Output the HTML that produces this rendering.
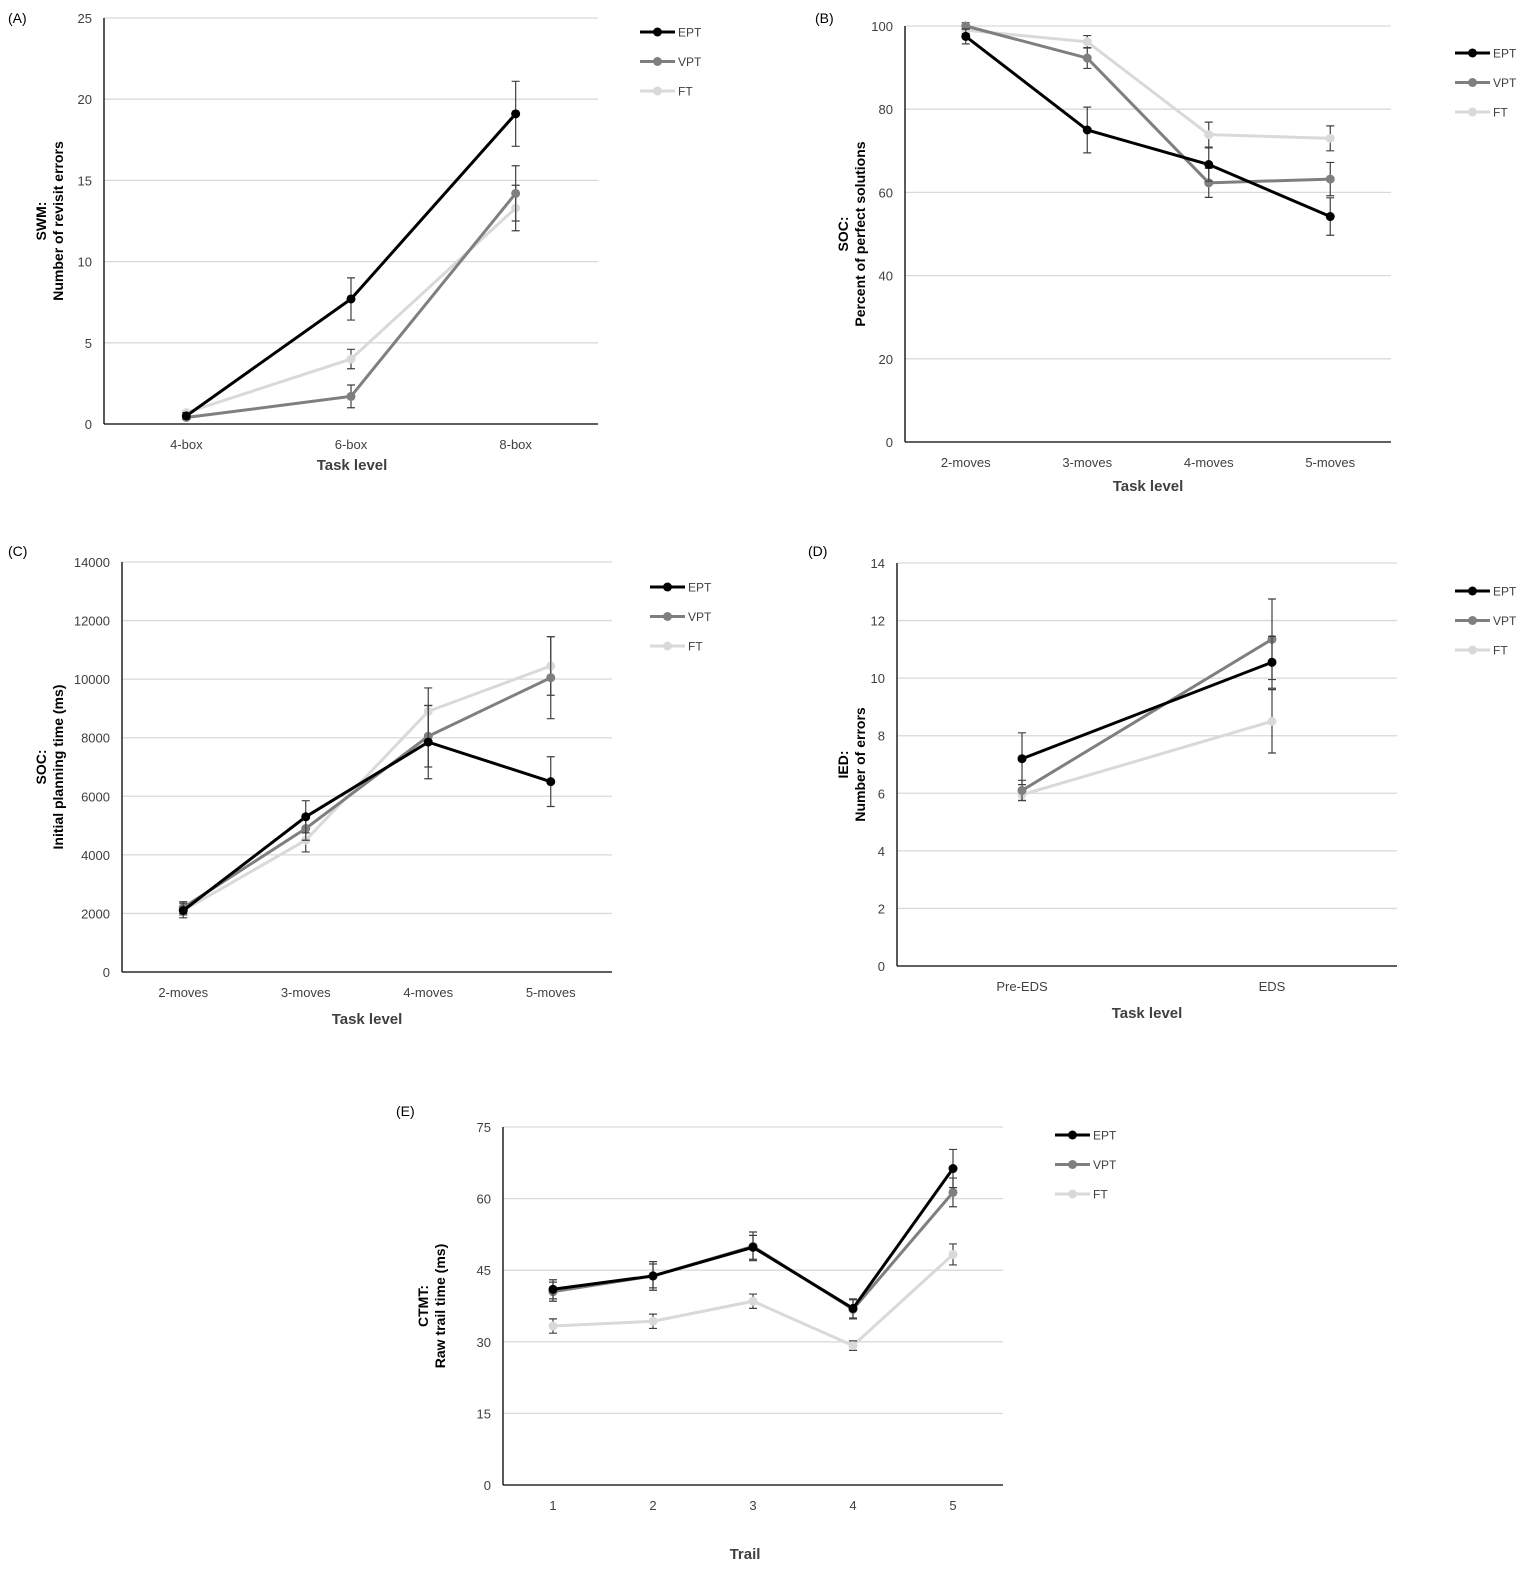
<!DOCTYPE html>
<html><head><meta charset="utf-8">
<style>
html,body{margin:0;padding:0;background:#fff;}
svg{display:block;font-family:"Liberation Sans",sans-serif;}
</style></head>
<body>
<svg id="fig" width="1535" height="1574" viewBox="0 0 1535 1574" xmlns="http://www.w3.org/2000/svg"></svg>
<script>
const seriesNames = ["EPT","VPT","FT"];
const seriesColors = ["#000000","#7f7f7f","#d9d9d9"];

const catsA = ["4-box","6-box","8-box"];
const eptA = [0.5, 7.7, 19.1];
const vptA = [0.4, 1.7, 14.2];
const ftA = [0.7, 4.0, 13.3];
const errEptA = [0.2, 1.3, 2.0];
const errVptA = [0.1, 0.7, 1.7];
const errFtA = [0.1, 0.6, 1.4];
const ticksA = [0,5,10,15,20,25];

const catsB = ["2-moves","3-moves","4-moves","5-moves"];
const eptB = [97.5, 75, 66.7, 54.2];
const vptB = [100, 92.3, 62.3, 63.2];
const ftB = [99, 96.2, 73.9, 73.0];
const errEptB = [1.8, 5.5, 4.0, 4.5];
const errVptB = [0.8, 2.5, 3.5, 4.0];
const errFtB = [0.8, 1.5, 3.0, 3.0];
const ticksB = [0,20,40,60,80,100];

const catsC = ["2-moves","3-moves","4-moves","5-moves"];
const eptC = [2100, 5300, 7850, 6500];
const vptC = [2200, 4900, 8050, 10050];
const ftC = [2100, 4500, 8900, 10450];
const errEptC = [250, 550, 1250, 850];
const errVptC = [200, 400, 1050, 1400];
const errFtC = [150, 400, 800, 1000];
const ticksC = [0,2000,4000,6000,8000,10000,12000,14000];

const catsD = ["Pre-EDS","EDS"];
const eptD = [7.2, 10.55];
const vptD = [6.1, 11.35];
const ftD = [5.95, 8.5];
const errEptD = [0.9, 0.9];
const errVptD = [0.35, 1.4];
const errFtD = [0.2, 1.1];
const ticksD = [0,2,4,6,8,10,12,14];

const catsE = ["1","2","3","4","5"];
const eptE = [41, 43.8, 49.8, 37, 66.3];
const vptE = [40.5, 43.8, 50, 36.8, 61.3];
const ftE = [33.3, 34.3, 38.5, 29.2, 48.3];
const errEptE = [2, 2.5, 2.5, 2, 4];
const errVptE = [2, 3, 3, 2, 3];
const errFtE = [1.5, 1.5, 1.5, 1, 2.2];
const ticksE = [0,15,30,45,60,75];

const NS = "http://www.w3.org/2000/svg";
const fig = document.getElementById('fig');
function mk(tag, attrs, parent, text){
  const e = document.createElementNS(NS, tag);
  for (const k in attrs) e.setAttribute(k, attrs[k]);
  if (text !== undefined) e.textContent = text;
  (parent||fig).appendChild(e);
  return e;
}

function chart(id, cfg){
  const g = mk('g', {});
  
  
  const {x0,x1,y0,y1,ticks,cats,vals,errs} = cfg;
  const ymax = ticks[ticks.length-1];
  const Y = v => y0 - (v/ymax)*(y0-y1);
  const step = (x1-x0)/cats.length;
  const X = i => x0 + step*(i+0.5);
  ticks.forEach(t=>{
    if (t>0){
      const gl = mk('line',{x1:x0,x2:x1,y1:Y(t),y2:Y(t),stroke:'#d9d9d9','stroke-width':1.3},g);
      
      
    }
    const tl = mk('text',{x:x0-12,y:Y(t)+5,'text-anchor':'end','font-size':13,fill:'#404040'},g,String(t));
    
    
  });
  const ax = mk('line',{x1:x0,x2:x0,y1:y1,y2:y0,stroke:'#000','stroke-width':1.3},g);
  
  
  const bx = mk('line',{x1:x0,x2:x1,y1:y0,y2:y0,stroke:'#000','stroke-width':1.3},g);
  
  
  cats.forEach((c,i)=>{
    const t = mk('text',{x:X(i),y:y0+25,'text-anchor':'middle','font-size':13,fill:'#404040'},g,c);
    
    
  });
  const xt = mk('text',{x:cfg.xtx,y:cfg.xty,'text-anchor':'middle','font-size':15,'font-weight':'bold',fill:'#404040'},g,cfg.xtitle);
  
  
  const yt = mk('text',{transform:`translate(${cfg.ytx},${(y0+y1)/2}) rotate(-90)`,'text-anchor':'middle','font-size':14,'font-weight':'bold',fill:'#000'},g);
  
  
  mk('tspan',{x:0,dy:-2},yt,cfg.ytitle[0]);
  mk('tspan',{x:0,dy:17},yt,cfg.ytitle[1]);
  const pl = mk('text',{x:cfg.lx,y:cfg.ly,'font-size':14,fill:'#000'},g,cfg.label);
  
  
  // series: draw FT first, then VPT, EPT on top
  [2,1,0].forEach(s=>{
    const sg = mk('g',{},g);
    
    
    const pts = vals[s].map((v,i)=>X(i)+','+Y(v)).join(' ');
    const ln = mk('polyline',{points:pts,fill:'none',stroke:seriesColors[s],'stroke-width':3},sg);
    
    
    vals[s].forEach((v,i)=>{
      const e = errs[s][i];
      const eb = mk('path',{d:`M${X(i)},${Y(v+e)}V${Y(v-e)}M${X(i)-4},${Y(v+e)}h8M${X(i)-4},${Y(v-e)}h8`,stroke:'#404040','stroke-width':1.2,fill:'none'},sg);
      
      
      const c = mk('circle',{cx:X(i),cy:Y(v),r:4.5,fill:seriesColors[s]},sg);
      
      
    });
  });
  seriesNames.forEach((n,s)=>{
    const lg = mk('g',{},g);
    
    
    const yy = cfg.legy + s*29.5;
    mk('line',{x1:cfg.legx,x2:cfg.legx+35,y1:yy,y2:yy,stroke:seriesColors[s],'stroke-width':3},lg);
    mk('circle',{cx:cfg.legx+17.5,cy:yy,r:4.5,fill:seriesColors[s]},lg);
    mk('text',{x:cfg.legx+38,y:yy+4.5,'font-size':12,fill:'#404040'},lg,n);
  });
}

chart('chart-a-swm',{x0:104,x1:598,y0:424,y1:18,ticks:ticksA,cats:catsA,
  vals:[eptA,vptA,ftA],errs:[errEptA,errVptA,errFtA],xtitle:'Task level',xtx:352,xty:470,
  ytitle:['SWM:','Number of revisit errors'],ytx:48,label:'(A)',lx:8,ly:23,legx:640,legy:32});
chart('chart-b-soc-solutions',{x0:905,x1:1391,y0:442,y1:26,ticks:ticksB,cats:catsB,
  vals:[eptB,vptB,ftB],errs:[errEptB,errVptB,errFtB],xtitle:'Task level',xtx:1148,xty:491,
  ytitle:['SOC:','Percent of perfect solutions'],ytx:850,label:'(B)',lx:815,ly:23,legx:1455,legy:53});
chart('chart-c-soc-planning',{x0:122,x1:612,y0:972,y1:562,ticks:ticksC,cats:catsC,
  vals:[eptC,vptC,ftC],errs:[errEptC,errVptC,errFtC],xtitle:'Task level',xtx:367,xty:1024,
  ytitle:['SOC:','Initial planning time (ms)'],ytx:48,label:'(C)',lx:8,ly:556,legx:650,legy:587});
chart('chart-d-ied',{x0:897,x1:1397,y0:966,y1:563,ticks:ticksD,cats:catsD,
  vals:[eptD,vptD,ftD],errs:[errEptD,errVptD,errFtD],xtitle:'Task level',xtx:1147,xty:1018,
  ytitle:['IED:','Number of errors'],ytx:850,label:'(D)',lx:808,ly:556,legx:1455,legy:591});
chart('chart-e-ctmt',{x0:503,x1:1003,y0:1485,y1:1127,ticks:ticksE,cats:catsE,
  vals:[eptE,vptE,ftE],errs:[errEptE,errVptE,errFtE],xtitle:'Trail',xtx:745,xty:1559,
  ytitle:['CTMT:','Raw trail time (ms)'],ytx:430,label:'(E)',lx:396,ly:1116,legx:1055,legy:1135});
</script>
</body></html>
